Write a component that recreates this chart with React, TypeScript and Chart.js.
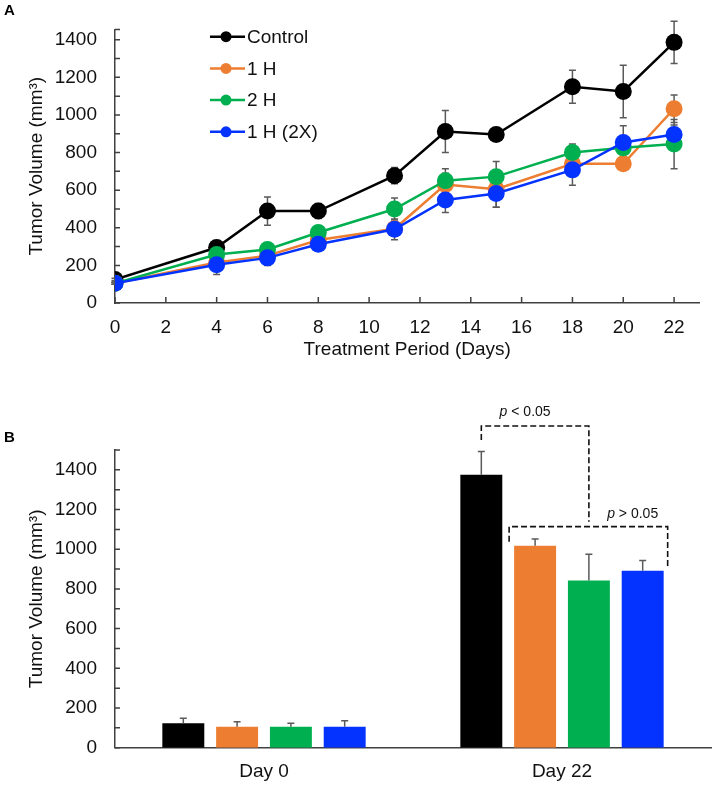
import React, { useEffect, useRef } from 'react';
import { Chart, registerables } from 'chart.js';

Chart.register(...registerables);

const FONT = '"Liberation Sans", Arial, Helvetica, sans-serif';
const AXIS_COLOR = '#404040';
const TEXT_COLOR = '#111111';
const ERR_COLOR = '#5a5a5a';

// ---------- Panel A data ----------
const days = [0, 4, 6, 8, 11, 13, 15, 18, 20, 22];
const seriesNames = ['Control', '1 H', '2 H', '1 H (2X)'];
const seriesColors = ['#000000', '#ED7D31', '#00B050', '#0433FF'];
const controlMean = [125, 295, 489, 489, 677, 912, 896, 1150, 1125, 1386];
const controlErr = [6, 20, 75, 40, 43, 112, 15, 88, 140, 113];
const h1Mean = [105, 215, 252, 335, 395, 630, 605, 740, 740, 1033];
const h1Err = [5, 30, 30, 30, 35, 60, 96, 55, 30, 73];
const h2Mean = [105, 258, 285, 375, 500, 650, 672, 800, 825, 845];
const h2Err = [5, 25, 30, 30, 58, 64, 80, 45, 60, 131];
const h1x2Mean = [105, 203, 240, 312, 392, 548, 582, 708, 854, 896];
const h1x2Err = [5, 52, 41, 30, 55, 67, 73, 82, 88, 50];
const xTickDays = [0, 2, 4, 6, 8, 10, 12, 14, 16, 18, 20, 22];
const yMaxA = 1455;
const yMaxB = 1500;
const yMinorStep = 100;
const yLabelStep = 200;
const yLabelMax = 1400;
const xMaxA = 23;

// ---------- Panel B data ----------
const barGroups = ['Day 0', 'Day 22'];
const barControl = [123, 1375];
const barControlErr = [25, 117];
const barH1 = [106, 1018];
const barH1Err = [25, 34];
const barH2 = [106, 842];
const barH2Err = [17, 133];
const barH1x2 = [106, 892];
const barH1x2Err = [30, 51];

// significance brackets (data units of the bar chart's y axis)
const sig1Label = '< 0.05';
const sig1Top = 1621;
const sig1LeftEnd = 1550;
const sig1RightEnd = 1139;
const sig1TextAt = 1689;
const sig2Label = '> 0.05';
const sig2Top = 1114;
const sig2LeftEnd = 1038;
const sig2RightEnd = 912;
const sig2TextAt = 1178;

// ---------- plugins ----------
function drawErrorBars(chart: any, opts: any) {
  const ctx = chart.ctx;
  const ys = chart.scales.y;
  ctx.save();
  ctx.strokeStyle = opts.color;
  ctx.lineWidth = opts.width;
  chart.data.datasets.forEach((ds: any, i: number) => {
    const errs = ds.errors;
    if (!errs) return;
    const meta = chart.getDatasetMeta(i);
    meta.data.forEach((el: any, j: number) => {
      const raw = ds.data[j];
      const v = typeof raw === 'number' ? raw : raw.y;
      const e = errs[j];
      if (!e) return;
      const top = ys.getPixelForValue(v + e);
      const bot = opts.oneSided ? el.y : ys.getPixelForValue(v - e);
      ctx.beginPath();
      ctx.moveTo(el.x, bot);
      ctx.lineTo(el.x, top);
      ctx.moveTo(el.x - opts.cap, top);
      ctx.lineTo(el.x + opts.cap, top);
      if (!opts.oneSided) {
        ctx.moveTo(el.x - opts.cap, bot);
        ctx.lineTo(el.x + opts.cap, bot);
      }
      ctx.stroke();
    });
  });
  ctx.restore();
}

const errorBarsPlugin = {
  id: 'errorBars',
  beforeDatasetsDraw(chart: any, _a: any, opts: any) {
    if (opts.layer === 'before') drawErrorBars(chart, opts);
  },
  afterDatasetsDraw(chart: any, _a: any, opts: any) {
    if (opts.layer === 'after') drawErrorBars(chart, opts);
  },
};

const insideTicksPlugin = {
  id: 'insideTicks',
  beforeDatasetsDraw(chart: any, _a: any, opts: any) {
    const { ctx, chartArea } = chart;
    ctx.save();
    ctx.strokeStyle = AXIS_COLOR;
    ctx.lineWidth = 1.5;
    ctx.beginPath();
    const ys = chart.scales.y;
    ys.ticks.forEach((t: any) => {
      const y = ys.getPixelForValue(t.value);
      ctx.moveTo(chartArea.left, y);
      ctx.lineTo(chartArea.left + opts.len, y);
    });
    if (opts.x) {
      const xs = chart.scales.x;
      xs.ticks.forEach((t: any) => {
        const x = xs.getPixelForValue(t.value);
        ctx.moveTo(x, chartArea.bottom);
        ctx.lineTo(x, chartArea.bottom - opts.xLen);
      });
    }
    ctx.stroke();
    ctx.restore();
  },
};

const lineLegendPlugin = {
  id: 'lineLegend',
  afterDraw(chart: any, _a: any, opts: any) {
    const ctx = chart.ctx;
    ctx.save();
    chart.data.datasets.forEach((ds: any, i: number) => {
      const y = opts.top + i * opts.rowGap;
      ctx.strokeStyle = ds.borderColor;
      ctx.lineWidth = 2.5;
      ctx.beginPath();
      ctx.moveTo(opts.x0, y);
      ctx.lineTo(opts.x1, y);
      ctx.stroke();
      ctx.fillStyle = ds.backgroundColor;
      ctx.beginPath();
      ctx.arc(opts.xm, y, opts.r, 0, Math.PI * 2);
      ctx.fill();
      ctx.fillStyle = TEXT_COLOR;
      ctx.font = `19px ${FONT}`;
      ctx.textAlign = 'left';
      ctx.textBaseline = 'middle';
      ctx.fillText(ds.label, opts.tx, y + 1);
    });
    ctx.restore();
  },
};

const panelLabelPlugin = {
  id: 'panelLabel',
  afterDraw(chart: any, _a: any, opts: any) {
    const ctx = chart.ctx;
    ctx.save();
    ctx.fillStyle = '#000';
    ctx.font = `bold 15px ${FONT}`;
    ctx.textAlign = 'left';
    ctx.textBaseline = 'alphabetic';
    ctx.fillText(opts.text, opts.x, opts.y);
    ctx.restore();
  },
};

function drawSigText(ctx: any, text: string, cx: number, y: number) {
  const italic = `italic 14px ${FONT}`;
  const normal = `14px ${FONT}`;
  ctx.font = italic;
  const wp = ctx.measureText('p').width;
  ctx.font = normal;
  const wr = ctx.measureText(' ' + text).width;
  const x0 = cx - (wp + wr) / 2;
  ctx.textAlign = 'left';
  ctx.textBaseline = 'middle';
  ctx.fillStyle = '#111';
  ctx.font = italic;
  ctx.fillText('p', x0, y);
  ctx.font = normal;
  ctx.fillText(' ' + text, x0 + wp, y);
}

const bracketPlugin = {
  id: 'brackets',
  afterDraw(chart: any) {
    const ctx = chart.ctx;
    const ys = chart.scales.y;
    const py = (v: number) => ys.getPixelForValue(v);
    const black = chart.getDatasetMeta(0).data[1];
    const orange = chart.getDatasetMeta(1).data[1];
    const green = chart.getDatasetMeta(2).data[1];
    const blue = chart.getDatasetMeta(3).data[1];
    ctx.save();
    ctx.strokeStyle = '#111';
    ctx.lineWidth = 1.6;
    ctx.setLineDash([6, 3]);
    ctx.beginPath();
    ctx.moveTo(black.x, py(sig1LeftEnd));
    ctx.lineTo(black.x, py(sig1Top));
    ctx.lineTo(green.x, py(sig1Top));
    ctx.lineTo(green.x, py(sig1RightEnd));
    ctx.stroke();
    const l = orange.x - orange.width / 2 - 5;
    const r = blue.x + blue.width / 2 + 4;
    ctx.beginPath();
    ctx.moveTo(l, py(sig2LeftEnd));
    ctx.lineTo(l, py(sig2Top));
    ctx.lineTo(r, py(sig2Top));
    ctx.lineTo(r, py(sig2RightEnd));
    ctx.stroke();
    ctx.setLineDash([]);
    drawSigText(ctx, sig1Label, (black.x + green.x) / 2 - 10, py(sig1TextAt));
    drawSigText(ctx, sig2Label, blue.x - 10, py(sig2TextAt));
    ctx.restore();
  },
};

function minorTicks(max: number) {
  const out: any[] = [];
  for (let v = 0; v <= max; v += yMinorStep) out.push({ value: v });
  if (out[out.length - 1].value !== max) out.push({ value: max });
  return out;
}

function yScale(max: number, titlePad: number) {
  return {
    type: 'linear',
    min: 0,
    max,
    afterBuildTicks: (s: any) => {
      s.ticks = minorTicks(max);
    },
    afterFit: (s: any) => {
      s.width = 115;
    },
    grid: { display: false, drawTicks: false },
    border: { display: true, color: AXIS_COLOR, width: 1.5 },
    ticks: {
      autoSkip: false,
      padding: 18,
      color: TEXT_COLOR,
      font: { family: FONT, size: 19 },
      callback: (v: any) => (v % yLabelStep === 0 && v <= yLabelMax ? String(v) : ''),
    },
    title: {
      display: true,
      text: 'Tumor Volume (mm³)',
      color: TEXT_COLOR,
      font: { family: FONT, size: 19 },
      padding: { top: titlePad, bottom: 0 },
    },
  };
}

function LineChartA() {
  const ref = useRef<HTMLCanvasElement>(null);
  useEffect(() => {
    const means = [controlMean, h1Mean, h2Mean, h1x2Mean];
    const errs = [controlErr, h1Err, h2Err, h1x2Err];
    const chart = new Chart(ref.current as HTMLCanvasElement, {
      type: 'line',
      data: {
        datasets: seriesNames.map((name, i) => ({
          label: name,
          data: days.map((d, j) => ({ x: d, y: means[i][j] })),
          errors: errs[i],
          borderColor: seriesColors[i],
          backgroundColor: seriesColors[i],
          borderWidth: 2.5,
          pointRadius: 8.5,
          pointHoverRadius: 8.5,
          pointBorderWidth: 0,
          tension: 0,
          order: seriesNames.length - i,
        })) as any,
      },
      options: {
        responsive: false,
        animation: false,
        events: [],
        layout: { padding: { left: 0, top: 14, right: 14.5, bottom: 0 } },
        scales: {
          x: {
            type: 'linear',
            min: 0,
            max: xMaxA,
            afterBuildTicks: (s: any) => {
              s.ticks = xTickDays.map((v) => ({ value: v }));
            },
            afterFit: (s: any) => {
              s.height = 67;
            },
            grid: { display: false, drawTicks: false },
            border: { display: true, color: AXIS_COLOR, width: 1.5 },
            ticks: {
              autoSkip: false,
              maxRotation: 0,
              padding: 13.6,
              color: TEXT_COLOR,
              font: { family: FONT, size: 19 },
            },
            title: {
              display: true,
              text: 'Treatment Period (Days)',
              color: TEXT_COLOR,
              font: { family: FONT, size: 19 },
              padding: { top: 0, bottom: 8.6 },
            },
          },
          y: yScale(yMaxA, 25.6) as any,
        },
        plugins: {
          legend: { display: false },
          tooltip: { enabled: false },
          errorBars: { layer: 'before', color: ERR_COLOR, width: 1.5, cap: 3.5, oneSided: false },
          insideTicks: { len: 5, x: true, xLen: 6 },
          lineLegend: { top: 36.7, rowGap: 31.7, x0: 210, x1: 245, xm: 226, r: 5.5, tx: 247 },
          panelLabel: { text: 'A', x: 4, y: 15 },
        } as any,
      },
      plugins: [errorBarsPlugin, insideTicksPlugin, lineLegendPlugin, panelLabelPlugin],
    });
    return () => chart.destroy();
  }, []);
  return <canvas ref={ref} width={714} height={370} style={{ display: 'block', position: 'absolute', left: 0, top: 0 }} />;
}

function BarChartB() {
  const ref = useRef<HTMLCanvasElement>(null);
  useEffect(() => {
    const vals = [barControl, barH1, barH2, barH1x2];
    const errs = [barControlErr, barH1Err, barH2Err, barH1x2Err];
    const chart = new Chart(ref.current as HTMLCanvasElement, {
      type: 'bar',
      data: {
        labels: barGroups,
        datasets: seriesNames.map((name, i) => ({
          label: name,
          data: vals[i],
          errors: errs[i],
          backgroundColor: seriesColors[i],
          borderWidth: 0,
          categoryPercentage: 0.722,
          barPercentage: 0.78,
        })) as any,
      },
      options: {
        responsive: false,
        animation: false,
        events: [],
        layout: { padding: { left: 0, top: 80, right: 3, bottom: 0 } },
        scales: {
          x: {
            type: 'category',
            afterFit: (s: any) => {
              s.height = 38.3;
            },
            grid: { display: false, drawTicks: false },
            border: { display: true, color: AXIS_COLOR, width: 1.5 },
            ticks: {
              padding: 12.6,
              color: TEXT_COLOR,
              font: { family: FONT, size: 19 },
            },
          },
          y: yScale(yMaxB, 25.6) as any,
        },
        plugins: {
          legend: { display: false },
          tooltip: { enabled: false },
          errorBars: { layer: 'after', color: ERR_COLOR, width: 1.5, cap: 3.5, oneSided: true },
          insideTicks: { len: 5, x: false },
          panelLabel: { text: 'B', x: 4, y: 72 },
        } as any,
      },
      plugins: [errorBarsPlugin, insideTicksPlugin, bracketPlugin, panelLabelPlugin],
    });
    return () => chart.destroy();
  }, []);
  return <canvas ref={ref} width={714} height={416} style={{ display: 'block', position: 'absolute', left: 0, top: 370 }} />;
}

export default function App() {
  return (
    <div style={{ position: 'absolute', left: 0, top: 0, width: 714, height: 786, background: '#fff' }}>
      <LineChartA />
      <BarChartB />
    </div>
  );
}
